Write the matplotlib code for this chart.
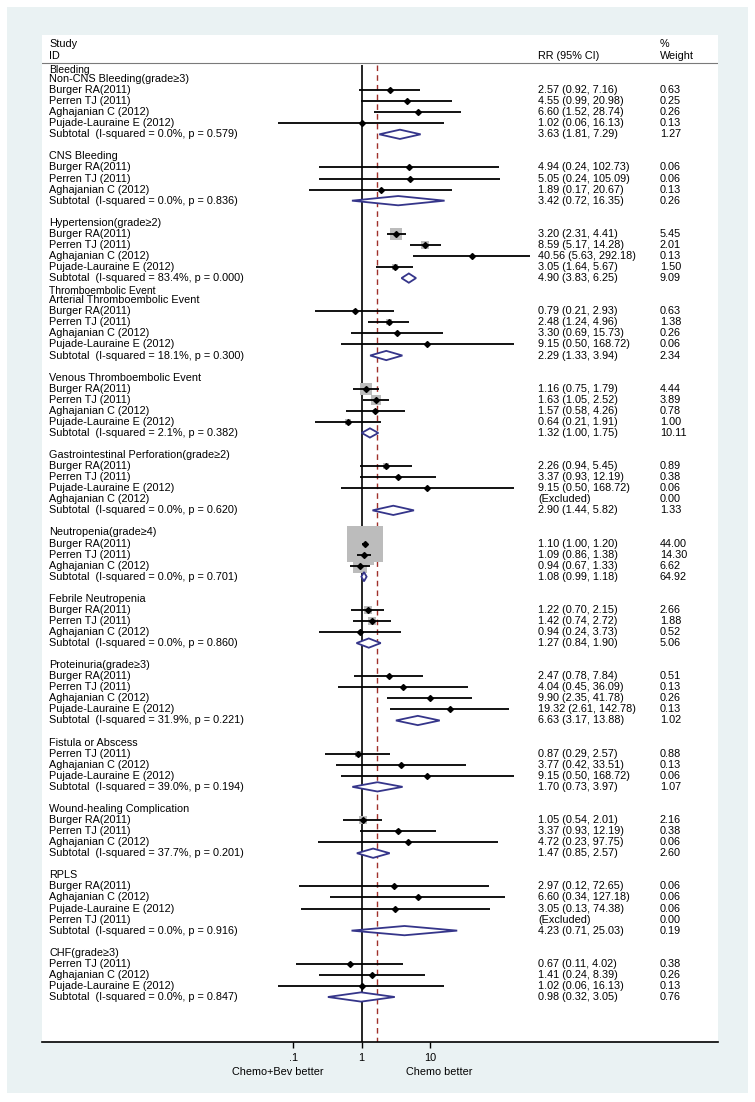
import numpy as np
import matplotlib
matplotlib.use("Agg")
import matplotlib.pyplot as plt
from matplotlib.patches import Rectangle, Polygon
from matplotlib.transforms import blended_transform_factory

plt.rcParams['font.family'] = ['Liberation Sans', 'DejaVu Sans']

# ---------------- data ----------------
B, P, A, PL = "Burger RA(2011)", "Perren TJ (2011)", "Aghajanian C (2012)", "Pujade-Lauraine E (2012)"

group_titles = ["Non-CNS Bleeding(grade≥3)", "CNS Bleeding", "Hypertension(grade≥2)",
                "Arterial Thromboembolic Event", "Venous Thromboembolic Event",
                "Gastrointestinal Perforation(grade≥2)", "Neutropenia(grade≥4)",
                "Febrile Neutropenia", "Proteinuria(grade≥3)", "Fistula or Abscess",
                "Wound-healing Complication", "RPLS", "CHF(grade≥3)"]
super_title_groups = [0, 3]
super_titles = ["Bleeding", "Thromboembolic Event"]

study_group = [0, 0, 0, 0, 1, 1, 1, 2, 2, 2, 2, 3, 3, 3, 3, 4, 4, 4, 4, 5, 5, 5, 5,
               6, 6, 6, 7, 7, 7, 8, 8, 8, 8, 9, 9, 9, 10, 10, 10, 11, 11, 11, 11, 12, 12, 12]
study_names = [B, P, A, PL, B, P, A, B, P, A, PL, B, P, A, PL, B, P, A, PL, B, P, PL, A,
               B, P, A, B, P, A, B, P, A, PL, P, A, PL, B, P, A, B, A, PL, P, P, A, PL]
nan = np.nan
study_rr = [2.57, 4.55, 6.60, 1.02, 4.94, 5.05, 1.89, 3.20, 8.59, 40.56, 3.05,
            0.79, 2.48, 3.30, 9.15, 1.16, 1.63, 1.57, 0.64, 2.26, 3.37, 9.15, nan,
            1.10, 1.09, 0.94, 1.22, 1.42, 0.94, 2.47, 4.04, 9.90, 19.32,
            0.87, 3.77, 9.15, 1.05, 3.37, 4.72, 2.97, 6.60, 3.05, nan, 0.67, 1.41, 1.02]
study_lo = [0.92, 0.99, 1.52, 0.06, 0.24, 0.24, 0.17, 2.31, 5.17, 5.63, 1.64,
            0.21, 1.24, 0.69, 0.50, 0.75, 1.05, 0.58, 0.21, 0.94, 0.93, 0.50, nan,
            1.00, 0.86, 0.67, 0.70, 0.74, 0.24, 0.78, 0.45, 2.35, 2.61,
            0.29, 0.42, 0.50, 0.54, 0.93, 0.23, 0.12, 0.34, 0.13, nan, 0.11, 0.24, 0.06]
study_hi = [7.16, 20.98, 28.74, 16.13, 102.73, 105.09, 20.67, 4.41, 14.28, 292.18, 5.67,
            2.93, 4.96, 15.73, 168.72, 1.79, 2.52, 4.26, 1.91, 5.45, 12.19, 168.72, nan,
            1.20, 1.38, 1.33, 2.15, 2.72, 3.73, 7.84, 36.09, 41.78, 142.78,
            2.57, 33.51, 168.72, 2.01, 12.19, 97.75, 72.65, 127.18, 74.38, nan, 4.02, 8.39, 16.13]
study_w = [0.63, 0.25, 0.26, 0.13, 0.06, 0.06, 0.13, 5.45, 2.01, 0.13, 1.50,
           0.63, 1.38, 0.26, 0.06, 4.44, 3.89, 0.78, 1.00, 0.89, 0.38, 0.06, 0.00,
           44.00, 14.30, 6.62, 2.66, 1.88, 0.52, 0.51, 0.13, 0.26, 0.13,
           0.88, 0.13, 0.06, 2.16, 0.38, 0.06, 0.06, 0.06, 0.06, 0.00, 0.38, 0.26, 0.13]

sub_isq = [0.0, 0.0, 83.4, 18.1, 2.1, 0.0, 0.0, 0.0, 31.9, 39.0, 37.7, 0.0, 0.0]
sub_p = [0.579, 0.836, 0.000, 0.300, 0.382, 0.620, 0.701, 0.860, 0.221, 0.194, 0.201, 0.916, 0.847]
sub_rr = [3.63, 3.42, 4.90, 2.29, 1.32, 2.90, 1.08, 1.27, 6.63, 1.70, 1.47, 4.23, 0.98]
sub_lo = [1.81, 0.72, 3.83, 1.33, 1.00, 1.44, 0.99, 0.84, 3.17, 0.73, 0.85, 0.71, 0.32]
sub_hi = [7.29, 16.35, 6.25, 3.94, 1.75, 5.82, 1.18, 1.90, 13.88, 3.97, 2.57, 25.03, 3.05]
sub_w = [1.27, 0.26, 9.09, 2.34, 10.11, 1.33, 64.92, 5.06, 1.02, 1.07, 2.60, 0.19, 0.76]

overall_rr = 1.66
x_ticks = [0.1, 1, 10]
x_tick_labels = [".1", "1", "10"]
favours = ["Chemo+Bev better", "Chemo better"]

# ---------------- layout ----------------
W, H = 755, 1102
fig = plt.figure(figsize=(W / 100, H / 100), dpi=100, facecolor='white')
fig.patches.append(Rectangle((7 / W, (H - 1093) / H), (748 - 7) / W, (1093 - 7) / H,
                             transform=fig.transFigure, facecolor='#eaf2f3',
                             edgecolor='none', zorder=-5))
ax_l, ax_r, ax_t, ax_b = 42, 718, 35, 1042
ax = fig.add_axes([ax_l / W, (H - ax_b) / H, (ax_r - ax_l) / W, (ax_b - ax_t) / H])
ax.set_facecolor('white')
ax.set_xscale('log')
ax.set_xlim(10 ** -4.681, 10 ** 5.217)
y_bottom, y_top = 87.07, -3.98
ax.set_ylim(y_bottom, y_top)
for s in ['top', 'left', 'right']:
    ax.spines[s].set_visible(False)
ax.spines['bottom'].set_linewidth(1.2)
ax.set_yticks([])
ax.set_xticks(x_ticks)
ax.set_xticklabels(x_tick_labels)
ax.minorticks_off()
ax.tick_params(axis='x', direction='out', length=4, width=1, pad=4, labelsize=7.8)

tr = blended_transform_factory(ax.transAxes, ax.transData)
fs = 7.8
x_lab, x_rr, x_w = 0.0104, 0.7337, 0.914

# headers
ax.text(x_lab, -3.16, "Study", transform=tr, fontsize=fs, va='center')
ax.text(x_lab, -2.08, "ID", transform=tr, fontsize=fs, va='center')
ax.text(x_rr, -2.08, "RR (95% CI)", transform=tr, fontsize=fs, va='center')
ax.text(x_w, -3.16, "%", transform=tr, fontsize=fs, va='center')
ax.text(x_w, -2.08, "Weight", transform=tr, fontsize=fs, va='center')
ax.axhline(-1.45, color='#7a7a7a', lw=0.8)

# reference lines
ax.vlines(1, -1.3, y_bottom, colors='black', lw=1.2, zorder=1)
ax.vlines(overall_rr, -1.3, y_bottom, colors='#a0302a', lw=1.0,
          linestyles=(0, (4, 3)), zorder=1)

# rows
row = 0
si = 0
for g, title in enumerate(group_titles):
    if g in super_title_groups:
        ax.text(x_lab, row - 0.8, super_titles[super_title_groups.index(g)],
                transform=tr, fontsize=7.5, va='center')
    ax.text(x_lab, row, title, transform=tr, fontsize=fs, va='center')
    row += 1
    while si < len(study_group) and study_group[si] == g:
        ax.text(x_lab, row, study_names[si], transform=tr, fontsize=fs, va='center')
        if np.isnan(study_rr[si]):
            ax.text(x_rr, row, "(Excluded)", transform=tr, fontsize=fs, va='center')
        else:
            ax.text(x_rr, row, f"{study_rr[si]:.2f} ({study_lo[si]:.2f}, {study_hi[si]:.2f})",
                    transform=tr, fontsize=fs, va='center')
            ax.scatter([study_rr[si]], [row], s=15.3 * study_w[si], marker='s',
                       color='#bcbcbc', linewidths=0, zorder=2)
            ax.hlines(row, study_lo[si], study_hi[si], colors='black', lw=1.3, zorder=3)
            ax.plot([study_rr[si]], [row], 'D', color='black', ms=3.0, zorder=4)
        ax.text(x_w, row, f"{study_w[si]:.2f}", transform=tr, fontsize=fs, va='center')
        row += 1
        si += 1
    ax.text(x_lab, row, f"Subtotal  (I-squared = {sub_isq[g]:.1f}%, p = {sub_p[g]:.3f})",
            transform=tr, fontsize=fs, va='center')
    ax.text(x_rr, row, f"{sub_rr[g]:.2f} ({sub_lo[g]:.2f}, {sub_hi[g]:.2f})",
            transform=tr, fontsize=fs, va='center')
    ax.text(x_w, row, f"{sub_w[g]:.2f}", transform=tr, fontsize=fs, va='center')
    h = 0.42
    ax.add_patch(Polygon([(sub_lo[g], row), (sub_rr[g], row - h), (sub_hi[g], row),
                          (sub_rr[g], row + h)], closed=True, facecolor='white',
                         edgecolor='#35358a', lw=1.3, zorder=5))
    row += 2

# favours labels
ax.text(0.349, -0.0298, favours[0], transform=ax.transAxes, fontsize=fs,
        ha='center', va='center')
ax.text(0.587, -0.0298, favours[1], transform=ax.transAxes, fontsize=fs,
        ha='center', va='center')

fig.savefig("out.png", dpi=100, facecolor='white')
